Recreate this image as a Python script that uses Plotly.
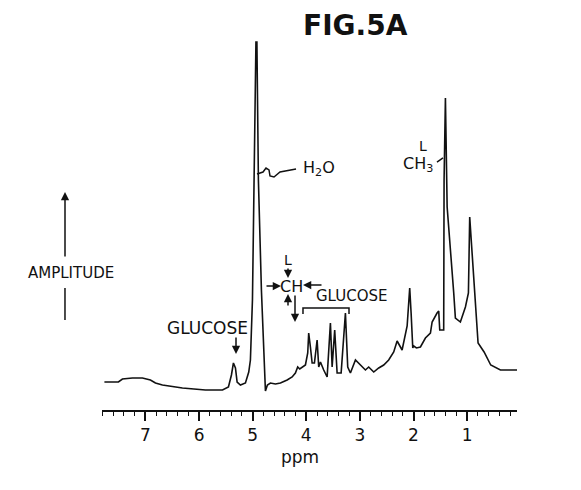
import plotly.graph_objects as go

# Spectrum (chemical shift in ppm, amplitude in arbitrary units)
ppm = [7.765, 7.504, 7.429, 7.242, 7.056, 6.907, 6.813, 6.683, 6.310, 5.881,
       5.563, 5.452, 5.396, 5.359, 5.321, 5.290, 5.228, 5.135, 5.073, 5.042,
       5.004, 4.967, 4.939, 4.921, 4.893, 4.837, 4.781, 4.762, 4.725, 4.669,
       4.575, 4.482, 4.357, 4.264, 4.203, 4.160, 4.122, 4.016, 3.973, 3.955,
       3.923, 3.891, 3.848, 3.798, 3.768, 3.736, 3.675, 3.611, 3.550, 3.518,
       3.470, 3.425, 3.350, 3.270, 3.227, 3.177, 3.083, 2.990, 2.897, 2.836,
       2.742, 2.649, 2.556, 2.463, 2.369, 2.306, 2.213, 2.119, 2.071, 2.045,
       2.014, 1.996, 1.946, 1.871, 1.778, 1.685, 1.653, 1.561, 1.530, 1.511,
       1.437, 1.430, 1.405, 1.373, 1.312, 1.250, 1.219, 1.126, 1.032, 0.976,
       0.952, 0.926, 0.877, 0.796, 0.684, 0.560, 0.379, 0.068]
amplitude = [26, 26, 29, 30, 30, 28, 25, 23, 20, 18,
             18, 21, 33, 45, 40, 26, 23, 25, 36, 48,
             108, 258, 366, 366, 228, 118, 33, 17, 23, 25,
             24, 25, 28, 31, 35, 41, 39, 43, 55, 75,
             61, 45, 45, 68, 41, 46, 38, 31, 85, 41,
             78, 35, 35, 95, 41, 35, 48, 43, 38, 41,
             36, 40, 43, 48, 56, 67, 58, 82, 120, 95,
             60, 62, 60, 61, 70, 75, 86, 95, 97, 78,
             78, 228, 310, 201, 161, 115, 90, 86, 101, 115,
             191, 171, 128, 65, 56, 43, 38, 38]

tick_vals = [1, 2, 3, 4, 5, 6, 7]
tick_text = ["1", "2", "3", "4", "5", "6", "7"]

# layout geometry (pixels, in the browser window)
L, R, T, B = 102, 517, 30, 410
W, H = 581, 490
OFF = 8  # default page body margin


def P(px, py):
    return (px - L) / (R - L), (B - py) / (B - T)


fig = go.Figure()
fig.add_trace(go.Scatter(x=ppm, y=amplitude, mode="lines",
                         line=dict(color="#111111", width=1.6),
                         hoverinfo="skip", showlegend=False))

FONT = "DejaVu Sans"
ann = []


def text(px, py, s, size, bold=False):
    x, y = P(px, py)
    if bold:
        s = "<b>" + s + "</b>"
    ann.append(dict(x=x, y=y, xref="paper", yref="paper", text=s,
                    showarrow=False, font=dict(family=FONT, size=size, color="#111"),
                    xanchor="center", yanchor="middle"))


def arrow(tx, ty, hx, hy):
    x, y = P(hx, hy)
    ann.append(dict(x=x, y=y, xref="paper", yref="paper", text="",
                    showarrow=True, ax=tx - hx, ay=ty - hy,
                    arrowhead=2, arrowsize=1.1, arrowwidth=1.5, arrowcolor="#111"))


text(355, 25, "FIG.5A", 28, bold=True)
text(71, 273, "AMPLITUDE", 15)
text(207, 328, "GLUCOSE", 17)
text(319, 168, "H<sub>2</sub>O", 16)
text(423, 146, "L", 14)
text(418, 164, "CH<sub>3</sub>", 16)
text(288, 260, "L", 14)
text(291, 286, "CH", 16)
text(352, 296, "GLUCOSE", 15)
text(300, 457, "ppm", 17)

arrow(65, 258, 65, 192)
arrow(236, 336, 236, 354)
arrow(288, 267, 288, 278)
arrow(265, 286, 281, 286)
arrow(323, 285, 303, 285)
arrow(288, 307, 288, 294)
arrow(295, 294, 295, 322)

shapes = []


def path(points):
    d = ""
    for i, (px, py) in enumerate(points):
        x, y = P(px, py)
        d += ("M" if i == 0 else " L") + f" {x:.4f},{y:.4f}"
    shapes.append(dict(type="path", path=d, xref="paper", yref="paper",
                       line=dict(color="#111", width=1.5)))


path([(65, 288), (65, 320)])
path([(303, 314), (303, 308), (349, 308), (349, 314)])
path([(257, 174), (263, 172), (266, 168), (269, 170), (270, 176), (274, 177),
      (280, 172), (296, 169)])
path([(437, 162), (443, 158)])

fig.update_layout(
    width=W - 2 * OFF, height=H - 2 * OFF,
    margin=dict(l=L - OFF, r=W - R - OFF, t=T - OFF, b=H - B - OFF),
    paper_bgcolor="white", plot_bgcolor="white",
    annotations=ann, shapes=shapes,
    xaxis=dict(range=[7.81, 0.07], showgrid=False, zeroline=False,
               showline=True, linecolor="#111", linewidth=1.6,
               ticks="outside", ticklen=9, tickwidth=1.6, tickcolor="#111",
               tickvals=tick_vals, ticktext=tick_text,
               tickfont=dict(family=FONT, size=17, color="#111"),
               minor=dict(dtick=0.2, tick0=0, ticks="outside", ticklen=4,
                          tickwidth=1.3, tickcolor="#111")),
    yaxis=dict(range=[-2, 378], visible=False),
)

fig.write_html("out.html")
